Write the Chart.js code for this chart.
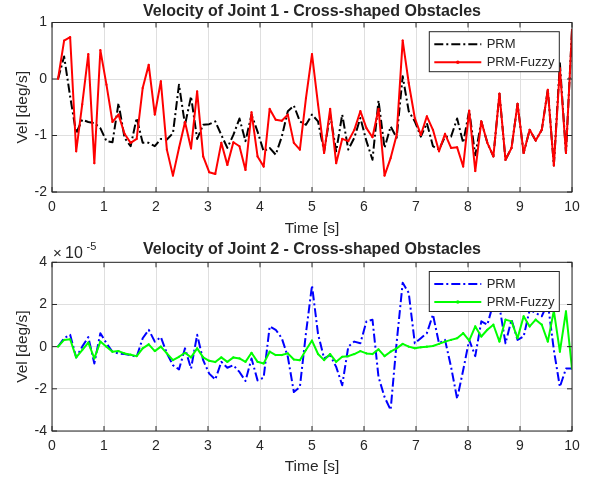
<!DOCTYPE html>
<html>
<head>
<meta charset="utf-8">
<script src="https://cdn.jsdelivr.net/npm/chart.js@4.4.0/dist/chart.umd.min.js"></script>
<style>
  html, body { margin: 0; padding: 0; background: #fff; }
  #wrap { position: relative; width: 596px; height: 481px; }
  canvas { position: absolute; left: 0; }
</style>
</head>
<body>
<div id="wrap">
  <canvas id="joint1Chart" width="596" height="240" style="top:0px"></canvas>
  <canvas id="joint2Chart" width="596" height="241" style="top:240px"></canvas>
</div>
<script>
// --- Sampled data ---

// sample times [s]
const time = [
  0.116, 0.233, 0.349, 0.465, 0.581, 0.698, 0.814, 0.930, 1.047, 1.163,
  1.279, 1.395, 1.512, 1.628, 1.744, 1.860, 1.977, 2.093, 2.209, 2.326,
  2.442, 2.558, 2.674, 2.791, 2.907, 3.023, 3.140, 3.256, 3.372, 3.488,
  3.605, 3.721, 3.837, 3.953, 4.070, 4.186, 4.302, 4.419, 4.535, 4.651,
  4.767, 4.884, 5.000, 5.116, 5.233, 5.349, 5.465, 5.581, 5.698, 5.814,
  5.930, 6.047, 6.163, 6.279, 6.395, 6.512, 6.628, 6.744, 6.860, 6.977,
  7.093, 7.209, 7.326, 7.442, 7.558, 7.674, 7.791, 7.907, 8.023, 8.140,
  8.256, 8.372, 8.488, 8.605, 8.721, 8.837, 8.953, 9.070, 9.186, 9.302,
  9.419, 9.535, 9.651, 9.767, 9.884, 10.000
];

// joint 1 velocity [deg/s]
const prmJoint1 = [
  0.00, 0.40, -0.31, -0.96, -0.72, -0.76, -0.78, -0.87, -1.10, -1.12,
  -0.43, -1.04, -1.19, -0.69, -1.13, -1.13, -1.19, -1.06, -1.07, -0.96,
  -0.10, -0.81, -0.31, -1.06, -0.81, -0.80, -0.75, -0.99, -1.22, -0.99,
  -0.70, -1.10, -0.63, -0.93, -1.28, -1.22, -1.34, -1.02, -0.57, -0.47,
  -0.75, -0.81, -0.63, -0.75, -1.28, -0.63, -1.28, -0.63, -1.25, -1.04,
  -0.69, -1.10, -1.43, -0.38, -1.22, -0.84, -1.04, 0.05, -0.57, -0.75,
  -1.02, -0.78, -1.19, -1.25, -1.02, -1.02, -0.70, -1.13, -0.56, -1.35,
  -0.75, -1.13, -1.37, -0.26, -1.43, -1.22, -0.44, -1.31, -0.90, -1.09,
  -0.90, -0.19, -1.53, 0.28, -1.31, 0.87
];
const fuzzyJoint1 = [
  0.00, 0.68, 0.74, -1.28, -0.45, 0.44, -1.49, 0.51, -0.10, -0.76,
  -0.63, -0.97, -1.13, -1.06, -0.16, 0.25, -0.63, -0.04, -1.25, -1.71,
  -1.22, -0.76, -1.23, -0.22, -1.37, -1.65, -1.68, -1.13, -1.52, -1.12,
  -1.19, -1.61, -0.59, -1.37, -1.55, -0.53, -0.72, -0.74, -0.63, -1.13,
  -1.25, -0.34, 0.44, -0.45, -1.31, -0.53, -1.49, -1.06, -1.10, -0.90,
  -0.57, -0.87, -1.03, -0.53, -1.71, -1.40, -0.99, 0.68, -0.07, -0.69,
  -0.99, -0.66, -0.90, -1.28, -0.97, -1.22, -1.21, -1.55, -0.56, -1.63,
  -0.75, -1.13, -1.37, -0.26, -1.43, -1.22, -0.44, -1.31, -0.90, -1.09,
  -0.90, -0.19, -1.53, 0.19, -1.31, 0.87
];

// joint 2 velocity [x 1e-5 deg/s]
const prmJoint2 = [
  0.00, 0.40, 0.56, -0.51, 0.00, 0.45, -0.80, 0.64, 0.16, -0.24,
  -0.32, -0.35, -0.40, -0.48, 0.40, 0.80, 0.24, 0.45, -0.32, -0.88,
  -1.08, -0.08, -1.04, 0.56, -0.64, -1.28, -1.56, -0.72, -1.00, -0.88,
  -1.20, -1.63, -0.56, -1.60, -1.47, 0.96, 0.80, 0.40, -0.48, -2.15,
  -1.91, 0.64, 2.90, 0.60, -0.56, -0.40, -0.96, -1.83, 0.00, 0.24,
  0.16, 1.20, 1.28, -1.44, -2.39, -3.00, 0.20, 3.03, 2.55, 0.16,
  0.40, 0.64, 1.52, 0.16, 0.32, -0.96, -2.47, -1.12, 0.32, -0.45,
  1.20, 1.04, 2.07, 1.90, 0.16, 1.28, 0.32, 0.48, 1.75, 1.60,
  1.44, 2.07, -0.16, -1.91, -1.04, -1.04
];
const fuzzyJoint2 = [
  0.00, 0.32, 0.35, -0.51, -0.16, 0.19, -0.56, 0.24, 0.00, -0.24,
  -0.21, -0.32, -0.38, -0.45, -0.08, 0.11, -0.21, 0.00, -0.32, -0.64,
  -0.48, -0.29, -0.51, -0.08, -0.51, -0.67, -0.73, -0.51, -0.72, -0.51,
  -0.56, -0.72, -0.29, -0.72, -0.80, -0.24, -0.40, -0.40, -0.32, -0.61,
  -0.64, -0.16, 0.29, -0.35, -0.64, -0.35, -0.72, -0.48, -0.45, -0.35,
  -0.21, -0.32, -0.35, -0.13, -0.45, -0.24, -0.08, 0.13, 0.00, -0.08,
  -0.03, 0.00, 0.03, 0.13, 0.24, 0.32, 0.40, 0.64, 0.29, 0.96,
  0.48, 0.80, 1.04, 0.24, 1.28, 1.20, 0.40, 1.44, 0.96, 1.28,
  1.04, 0.24, 1.70, -0.24, 1.67, -1.04
];

const FONT = "'Liberation Sans', Arial, Helvetica, sans-serif";
const INK = '#262626';
const GRID = '#dfdfdf';
const DASH_DOT = [9, 3, 2, 3];

function toPoints(values) {
    return time.map((t, i) => ({ x: t, y: values[i] }));
}

// --- Plugins ---

// box around the axes with inward tick marks on all four sides
const axesBox = {
    id: 'axesBox',
    afterDatasetsDraw(chart) {
        const { ctx, chartArea: a, scales: { x, y } } = chart;
        const len = 5;
        ctx.save();
        ctx.strokeStyle = INK;
        ctx.lineWidth = 1;
        ctx.beginPath();
        x.ticks.forEach(t => {
            const px = x.getPixelForValue(t.value);
            ctx.moveTo(px, a.bottom); ctx.lineTo(px, a.bottom - len);
            ctx.moveTo(px, a.top); ctx.lineTo(px, a.top + len);
        });
        y.ticks.forEach(t => {
            const py = y.getPixelForValue(t.value);
            ctx.moveTo(a.left, py); ctx.lineTo(a.left + len, py);
            ctx.moveTo(a.right, py); ctx.lineTo(a.right - len, py);
        });
        ctx.stroke();
        ctx.strokeRect(a.left, a.top, a.right - a.left, a.bottom - a.top);
        ctx.restore();
    }
};

// boxed legend in the upper right corner of the plot area
const boxLegend = {
    id: 'boxLegend',
    afterDraw(chart) {
        const { ctx, chartArea: a } = chart;
        const w = 130, h = 40;
        const left = a.right - 12.7 - w;
        const top = a.top + 9.2;
        ctx.save();
        ctx.fillStyle = '#fff';
        ctx.fillRect(left, top, w, h);
        ctx.strokeStyle = INK;
        ctx.lineWidth = 1;
        ctx.strokeRect(left, top, w, h);

        chart.data.datasets.forEach((ds, i) => {
            const cy = top + 12.5 + i * 18;
            ctx.strokeStyle = ds.borderColor;
            ctx.lineWidth = ds.borderWidth;
            ctx.setLineDash(ds.borderDash || []);
            ctx.beginPath();
            ctx.moveTo(left + 5, cy);
            ctx.lineTo(left + 52, cy);
            ctx.stroke();
            ctx.setLineDash([]);
            if (ds.pointRadius > 0) {
                ctx.fillStyle = ds.borderColor;
                ctx.beginPath();
                ctx.arc(left + 28.5, cy, 1.8, 0, Math.PI * 2);
                ctx.fill();
            }
            ctx.fillStyle = INK;
            ctx.font = '13px ' + FONT;
            ctx.textBaseline = 'middle';
            ctx.textAlign = 'left';
            ctx.fillText(ds.label, left + 57.4, cy + 0.5);
        });
        ctx.restore();
    }
};

// axis multiplier written above the y axis
const axisExponent = {
    id: 'axisExponent',
    afterDraw(chart, args, opts) {
        if (!opts.power) return;
        const { ctx, chartArea: a } = chart;
        const cy = a.top - 8.3;
        ctx.save();
        ctx.fillStyle = INK;
        ctx.textBaseline = 'middle';
        ctx.textAlign = 'left';
        ctx.font = '15px ' + FONT;
        ctx.fillText('\u00d7', a.left + 1, cy);
        ctx.font = '16px ' + FONT;
        ctx.fillText('10', a.left + 13, cy);
        ctx.font = '11px ' + FONT;
        ctx.fillText(opts.power, a.left + 34.5, a.top - 15);
        ctx.restore();
    }
};

// --- Chart factory ---

function makeChart(canvasId, cfg) {
    return new Chart(document.getElementById(canvasId), {
        type: 'line',
        data: {
            datasets: [
                {
                    label: 'PRM',
                    data: toPoints(cfg.prm),
                    borderColor: cfg.prmColor,
                    borderWidth: 2,
                    borderDash: DASH_DOT,
                    pointRadius: 0,
                    borderJoinStyle: 'round',
                    order: 1
                },
                {
                    label: 'PRM-Fuzzy',
                    data: toPoints(cfg.fuzzy),
                    borderColor: cfg.fuzzyColor,
                    backgroundColor: cfg.fuzzyColor,
                    borderWidth: 2,
                    pointRadius: 1.1,
                    pointBorderWidth: 0,
                    borderJoinStyle: 'round',
                    order: 0
                }
            ]
        },
        options: {
            responsive: false,
            animation: false,
            devicePixelRatio: 1,
            events: [],
            layout: { padding: { left: 0, right: 24, top: 0, bottom: 0 } },
            plugins: {
                legend: { display: false },
                tooltip: { enabled: false },
                title: {
                    display: true,
                    fullSize: false,
                    text: cfg.title,
                    color: INK,
                    font: { family: FONT, size: 16, weight: 'bold', lineHeight: 1.25 },
                    padding: cfg.titlePad
                },
                axisExponent: { power: cfg.power || null }
            },
            scales: {
                x: {
                    type: 'linear',
                    min: 0,
                    max: 10,
                    ticks: { stepSize: 1, padding: cfg.xTickPad, color: INK, font: { family: FONT, size: 14 } },
                    grid: { color: GRID, drawTicks: false },
                    border: { display: false },
                    title: {
                        display: true,
                        text: 'Time [s]',
                        color: INK,
                        font: { family: FONT, size: 15.5 },
                        padding: { top: 0, bottom: cfg.xTitlePad }
                    },
                    afterFit: scale => { scale.height = cfg.xHeight; }
                },
                y: {
                    min: cfg.yMin,
                    max: cfg.yMax,
                    ticks: { stepSize: cfg.yStep, padding: 5, color: INK, font: { family: FONT, size: 14 } },
                    grid: { color: GRID, drawTicks: false },
                    border: { display: false },
                    title: {
                        display: true,
                        text: 'Vel [deg/s]',
                        color: INK,
                        font: { family: FONT, size: 15.5 },
                        padding: { top: 13.4, bottom: 0 }
                    },
                    afterFit: scale => { scale.width = 52; }
                }
            }
        },
        plugins: [axesBox, boxLegend, axisExponent]
    });
}

makeChart('joint1Chart', {
    title: 'Velocity of Joint 1 - Cross-shaped Obstacles',
    prm: prmJoint1,
    fuzzy: fuzzyJoint1,
    prmColor: '#000000',
    fuzzyColor: '#ff0000',
    yMin: -2, yMax: 1, yStep: 1,
    titlePad: { top: 2, bottom: 0.5 },
    xHeight: 48, xTickPad: 6.3, xTitlePad: 2.4
});

makeChart('joint2Chart', {
    title: 'Velocity of Joint 2 - Cross-shaped Obstacles',
    prm: prmJoint2,
    fuzzy: fuzzyJoint2,
    prmColor: '#0000ff',
    fuzzyColor: '#00ff00',
    yMin: -4, yMax: 4, yStep: 2,
    power: '-5',
    titlePad: { top: 0, bottom: 2.3 },
    xHeight: 50, xTickPad: 7.1, xTitlePad: 5
});
</script>
</body>
</html>
